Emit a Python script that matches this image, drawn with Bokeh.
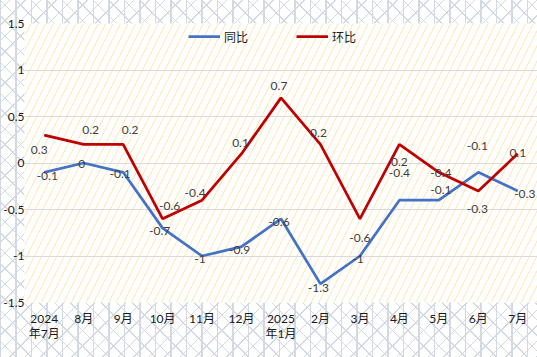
from bokeh.plotting import figure
from bokeh.models import (FactorRange, Range1d, FixedTicker, BoxAnnotation, Legend,
                          LegendItem, ColumnDataSource, NumeralTickFormatter, InlineStyleSheet)
from bokeh.core.properties import value
from bokeh.embed import file_html
from bokeh.resources import INLINE

# ---- data ----
months = ["2024\n年7月", "8月", "9月", "10月", "11月", "12月", "2025\n年1月",
          "2月", "3月", "4月", "5月", "6月", "7月"]
yoy = [-0.1, 0, -0.1, -0.7, -1, -0.9, -0.6, -1.3, -1, -0.4, -0.4, -0.1, -0.3]   # 同比
mom = [0.3, 0.2, 0.2, -0.6, -0.4, 0.1, 0.7, 0.2, -0.6, 0.2, -0.1, -0.3, 0.1]    # 环比
y_ticks = [-1.5, -1, -0.5, 0, 0.5, 1, 1.5]
series_names = ["同比", "环比"]

# label offsets in screen pixels (dx right, dy down)
yoy_dx = [3, -2, -3, -3, -2, -2, -2, -2, -2, 0, 2, -1, 7]
yoy_dy = [4, 1, 2, 3, 3, 3, 3, 4, 3, -27, -27, -26, 3]
mom_dx = [-5, 7, 7, 7, -7, -1, -2, -2, 0, 0, 2, -1, 0]
mom_dy = [15, -14, -14, -13, -7, -11, -12, -11, 19, 18, 18, 18, -1]

BLUE = "#4472C4"
RED = "#C00000"
LATTICE = "#d3d8e3"
LABEL_FONT = "Lato, Noto Sans CJK SC"

p = figure(width=537, height=357,
           x_range=FactorRange(*months, range_padding=0, factor_padding=0),
           y_range=Range1d(-1.5, 1.5),
           output_backend="svg", toolbar_location=None,
           min_border_left=20, min_border_right=0, min_border_top=23, min_border_bottom=55,
           border_fill_alpha=0, background_fill_color="white", outline_line_color=None)

# lattice pattern behind the transparent border area
css = f"""
:host {{
  background-color: white;
  background-image:
    repeating-linear-gradient(90deg, {LATTICE} 0px, {LATTICE} 1px, transparent 1px, transparent 15.5px),
    repeating-linear-gradient(45deg, {LATTICE} 0px, {LATTICE} 1px, transparent 1px, transparent 10.96px),
    repeating-linear-gradient(-45deg, {LATTICE} 0px, {LATTICE} 1px, transparent 1px, transparent 10.96px);
}}
"""
p.stylesheets = [InlineStyleSheet(css=css)]

# hatched plot area
inner = BoxAnnotation(fill_color="white", fill_alpha=1, line_color=None,
                      hatch_pattern="right_diagonal_line", hatch_color="#fbe5b0", hatch_scale=15, hatch_weight=1,
                      level="image")
p.add_layout(inner)

# axes & grid
p.xgrid.visible = False
p.ygrid.ticker = FixedTicker(ticks=y_ticks)
p.ygrid.grid_line_color = "#d9d9d9"
p.ygrid.grid_line_width = 1
p.yaxis.ticker = FixedTicker(ticks=y_ticks)
p.yaxis.formatter = NumeralTickFormatter(format="0.[0]")
for ax in (p.xaxis, p.yaxis):
    ax.axis_line_color = None
    ax.major_tick_line_color = None
    ax.minor_tick_line_color = None
    ax.major_tick_out = 0
    ax.major_tick_in = 0
    ax.minor_tick_out = 0
    ax.minor_tick_in = 0
    ax.major_label_text_color = "#1a1a1a"
    ax.major_label_text_font_size = "12px"
    ax.major_label_text_font = LABEL_FONT
p.yaxis.major_label_standoff = 0
p.xaxis.major_label_standoff = 8
p.xaxis.major_label_text_line_height = 1.0

src_yoy = ColumnDataSource(dict(x=months, y=yoy, t=[f"{v:g}" for v in yoy], dx=yoy_dx, dy=yoy_dy))
src_mom = ColumnDataSource(dict(x=months, y=mom, t=[f"{v:g}" for v in mom], dx=mom_dx, dy=mom_dy))

r1 = p.line("x", "y", source=src_yoy, line_color=BLUE, line_width=2.75)
r2 = p.line("x", "y", source=src_mom, line_color=RED, line_width=2.75)

for src in (src_yoy, src_mom):
    p.text("x", "y", text="t", source=src, x_offset="dx", y_offset="dy",
           text_align="center", text_baseline="middle",
           text_font=value(LABEL_FONT), text_font_size="12px", text_color="#404040")

legend = Legend(items=[LegendItem(label=series_names[0], renderers=[r1]),
                       LegendItem(label=series_names[1], renderers=[r2])],
                orientation="horizontal", location=(164, 256),
                background_fill_alpha=0, border_line_color=None,
                padding=0, margin=0, spacing=48, glyph_width=32, glyph_height=20,
                label_standoff=4, label_text_font=LABEL_FONT, label_text_font_size="12px",
                label_text_color="#1a1a1a")
p.add_layout(legend)

open("out.html", "w").write(file_html(p, INLINE))
